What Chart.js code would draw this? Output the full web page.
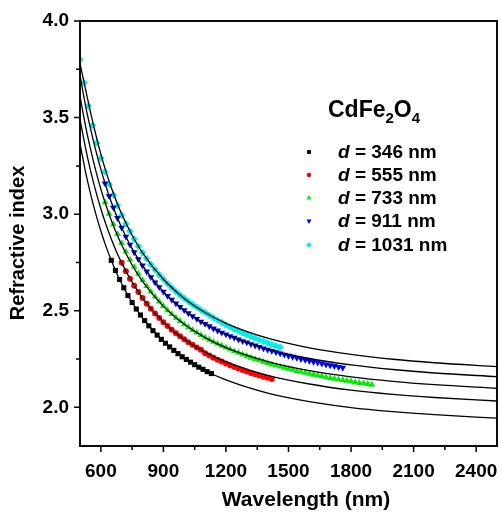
<!DOCTYPE html>
<html>
<head>
<meta charset="utf-8">
<script src="https://cdn.jsdelivr.net/npm/chart.js@4.4.1/dist/chart.umd.min.js"></script>
<style>
  html, body { margin: 0; padding: 0; background: #fff; }
  #wrap { width: 501px; height: 513px; }
</style>
</head>
<body>
<div id="wrap"><canvas id="chart" width="501" height="513"></canvas></div>
<script>
// ── Data ───────────────────────────────────────────────────
const xTicks = [600, 900, 1200, 1500, 1800, 2100, 2400];
const xMinor = [750, 1050, 1350, 1650, 1950, 2250];
const yTicks = [2.0, 2.5, 3.0, 3.5, 4.0];
const yMinor = [2.25, 2.75, 3.25, 3.75];

const seriesNames = ['346', '555', '733', '911', '1031'];
const seriesColors = ['#000000', '#ff0000', '#00ee00', '#0000ff', '#00eeee'];

// measured points, d = 346 nm
const wl346 = [650, 670, 690, 710, 730, 750, 770, 790, 810, 830, 850, 870, 890, 910, 930, 950, 970, 990, 1010, 1030, 1050, 1070, 1090, 1110, 1130];
const n346 = [2.761, 2.709, 2.662, 2.619, 2.579, 2.543, 2.509, 2.478, 2.449, 2.422, 2.397, 2.374, 2.352, 2.332, 2.313, 2.295, 2.278, 2.262, 2.248, 2.234, 2.221, 2.208, 2.197, 2.185, 2.175];

// d = 555 nm
const wl555 = [700, 720, 740, 760, 780, 800, 820, 840, 860, 880, 900, 920, 940, 960, 980, 1000, 1020, 1040, 1060, 1080, 1100, 1120, 1140, 1160, 1180, 1200, 1220, 1240, 1260, 1280, 1300, 1320, 1340, 1360, 1380, 1400, 1420];
const n555 = [2.748, 2.705, 2.666, 2.630, 2.597, 2.566, 2.537, 2.510, 2.486, 2.463, 2.441, 2.421, 2.402, 2.384, 2.368, 2.352, 2.337, 2.324, 2.310, 2.298, 2.280, 2.268, 2.257, 2.246, 2.237, 2.227, 2.218, 2.209, 2.201, 2.193, 2.186, 2.178, 2.172, 2.165, 2.159, 2.153, 2.147];

// d = 733 nm
const wl733 = [620, 640, 660, 680, 700, 720, 740, 760, 780, 800, 820, 840, 860, 880, 900, 920, 940, 960, 980, 1000, 1020, 1040, 1060, 1080, 1100, 1120, 1140, 1160, 1180, 1200, 1220, 1240, 1260, 1280, 1300, 1320, 1340, 1360, 1380, 1400, 1420, 1440, 1460, 1480, 1500, 1520, 1540, 1560, 1580, 1600, 1620, 1640, 1660, 1680, 1700, 1720, 1740, 1760, 1780, 1800, 1820, 1840, 1860, 1880, 1900];
const n733 = [3.061, 3.002, 2.948, 2.897, 2.850, 2.806, 2.765, 2.727, 2.692, 2.659, 2.628, 2.599, 2.573, 2.548, 2.525, 2.503, 2.483, 2.464, 2.447, 2.430, 2.415, 2.400, 2.387, 2.374, 2.361, 2.350, 2.339, 2.329, 2.319, 2.309, 2.300, 2.290, 2.282, 2.273, 2.265, 2.257, 2.249, 2.243, 2.236, 2.229, 2.222, 2.216, 2.211, 2.205, 2.199, 2.194, 2.188, 2.184, 2.179, 2.174, 2.169, 2.165, 2.161, 2.156, 2.152, 2.148, 2.144, 2.141, 2.138, 2.134, 2.130, 2.126, 2.124, 2.121, 2.117];

// d = 911 nm
const wl911 = [620, 640, 660, 680, 700, 720, 740, 760, 780, 800, 820, 840, 860, 880, 900, 920, 940, 960, 980, 1000, 1020, 1040, 1060, 1080, 1100, 1120, 1140, 1160, 1180, 1200, 1220, 1240, 1260, 1280, 1300, 1320, 1340, 1360, 1380, 1400, 1420, 1440, 1460, 1480, 1500, 1520, 1540, 1560, 1580, 1600, 1620, 1640, 1660, 1680, 1700, 1720, 1740, 1760];
const n911 = [3.159, 3.094, 3.034, 2.980, 2.930, 2.884, 2.842, 2.803, 2.767, 2.734, 2.703, 2.674, 2.647, 2.622, 2.599, 2.577, 2.557, 2.538, 2.520, 2.503, 2.487, 2.472, 2.458, 2.444, 2.432, 2.420, 2.408, 2.398, 2.387, 2.378, 2.369, 2.360, 2.351, 2.343, 2.336, 2.327, 2.320, 2.313, 2.305, 2.299, 2.292, 2.286, 2.279, 2.273, 2.267, 2.262, 2.256, 2.250, 2.246, 2.241, 2.236, 2.232, 2.227, 2.222, 2.218, 2.214, 2.209, 2.205];

// d = 1031 nm
const wl1031 = [500, 520, 540, 560, 580, 600, 620, 640, 660, 680, 700, 720, 740, 760, 780, 800, 820, 840, 860, 880, 900, 920, 940, 960, 980, 1000, 1020, 1040, 1060, 1080, 1100, 1120, 1140, 1160, 1180, 1200, 1220, 1240, 1260, 1280, 1300, 1320, 1340, 1360, 1380, 1400, 1420, 1440, 1460];
const n1031 = [3.80, 3.68, 3.56, 3.46, 3.37, 3.29, 3.22, 3.155, 3.10, 3.045, 2.995, 2.95, 2.911, 2.871, 2.834, 2.800, 2.769, 2.739, 2.712, 2.686, 2.663, 2.640, 2.619, 2.600, 2.581, 2.564, 2.548, 2.533, 2.518, 2.504, 2.491, 2.477, 2.464, 2.451, 2.439, 2.427, 2.416, 2.405, 2.396, 2.385, 2.376, 2.367, 2.358, 2.349, 2.342, 2.333, 2.325, 2.318, 2.311];

// fitted curves (black lines), sampled along the picture
const fitWl = [500, 525, 550, 575, 600, 625, 650, 675, 700, 750, 800, 900, 1000, 1100, 1200, 1400, 1600, 1800, 2000, 2200, 2500];
const fit346 = [3.365, 3.227, 3.108, 3.004, 2.913, 2.832, 2.761, 2.697, 2.640, 2.543, 2.463, 2.342, 2.255, 2.191, 2.142, 2.074, 2.030, 1.999, 1.978, 1.962, 1.944];
const fit555 = [3.492, 3.351, 3.228, 3.122, 3.028, 2.945, 2.871, 2.806, 2.748, 2.648, 2.566, 2.441, 2.352, 2.286, 2.236, 2.166, 2.121, 2.089, 2.067, 2.051, 2.033];
const fit733 = [3.612, 3.465, 3.339, 3.228, 3.130, 3.045, 2.969, 2.901, 2.840, 2.737, 2.652, 2.523, 2.430, 2.361, 2.309, 2.237, 2.190, 2.158, 2.135, 2.118, 2.099];
const fit911 = [3.720, 3.570, 3.445, 3.333, 3.232, 3.143, 3.063, 2.993, 2.930, 2.822, 2.734, 2.599, 2.503, 2.432, 2.378, 2.302, 2.253, 2.220, 2.196, 2.178, 2.159];
const fit1031 = [3.780, 3.655, 3.530, 3.415, 3.311, 3.219, 3.138, 3.066, 3.001, 2.891, 2.800, 2.663, 2.564, 2.491, 2.435, 2.358, 2.308, 2.274, 2.249, 2.231, 2.211];

// ── Helpers ─────────────────────────────────────────────
const FONT = 'Arial, "Liberation Sans", Helvetica, sans-serif';
const toPts = (xs, ys) => xs.map((x, i) => ({ x: x, y: ys[i] }));

const markers = [
    { pointStyle: 'rect', radius: 3.6, rotation: 0 },
    { pointStyle: 'circle', radius: 3.0, rotation: 0 },
    { pointStyle: 'triangle', radius: 3.9, rotation: 0 },
    { pointStyle: 'triangle', radius: 3.9, rotation: 180 },
    { pointStyle: 'rectRot', radius: 3.8, rotation: 0 }
];

const measured = [[wl346, n346], [wl555, n555], [wl733, n733], [wl911, n911], [wl1031, n1031]];
const fits = [fit346, fit555, fit733, fit911, fit1031];

const datasets = [];
fits.forEach((f, i) => {
    datasets.push({
        label: 'fit ' + seriesNames[i],
        data: toPts(fitWl, f),
        showLine: true,
        borderColor: '#000',
        borderWidth: 1.3,
        pointRadius: 0,
        cubicInterpolationMode: 'monotone',
        order: 0
    });
});
measured.forEach(([xs, ys], i) => {
    datasets.push({
        label: 'd = ' + seriesNames[i] + ' nm',
        data: toPts(xs, ys),
        showLine: false,
        backgroundColor: seriesColors[i],
        pointBackgroundColor: seriesColors[i],
        pointBorderWidth: 0,
        pointStyle: markers[i].pointStyle,
        pointRadius: markers[i].radius,
        pointRotation: markers[i].rotation,
        order: 1
    });
});

// ── Frame, ticks, titles and legend drawn on top ──────────
const decorations = {
    id: 'decorations',
    afterDraw(chart) {
        const ctx = chart.ctx;
        const a = chart.chartArea;
        const xs = chart.scales.x, ys = chart.scales.y;
        ctx.save();
        ctx.strokeStyle = '#000';

        // frame
        ctx.lineWidth = 1.9;
        ctx.strokeRect(a.left, a.top, a.right - a.left, a.bottom - a.top);

        // tick marks (outward)
        ctx.lineWidth = 1.5;
        ctx.beginPath();
        xTicks.forEach(v => { const p = xs.getPixelForValue(v); ctx.moveTo(p, a.bottom); ctx.lineTo(p, a.bottom + 6); });
        xMinor.forEach(v => { const p = xs.getPixelForValue(v); ctx.moveTo(p, a.bottom); ctx.lineTo(p, a.bottom + 4); });
        yTicks.forEach(v => { const p = ys.getPixelForValue(v); ctx.moveTo(a.left, p); ctx.lineTo(a.left - 6, p); });
        yMinor.forEach(v => { const p = ys.getPixelForValue(v); ctx.moveTo(a.left, p); ctx.lineTo(a.left - 4, p); });
        ctx.stroke();

        // axis titles
        ctx.fillStyle = '#000';
        ctx.textAlign = 'center';
        ctx.textBaseline = 'middle';
        ctx.font = 'bold 21px ' + FONT;
        ctx.fillText('Wavelength (nm)', 306, 500);
        ctx.font = 'bold 20px ' + FONT;
        ctx.save();
        ctx.translate(18, 243);
        ctx.rotate(-Math.PI / 2);
        ctx.fillText('Refractive index', 0, 0);
        ctx.restore();

        // legend title CdFe2O4
        ctx.textAlign = 'left';
        ctx.textBaseline = 'alphabetic';
        let x = 328;
        const parts = [['CdFe', 23, 0], ['2', 15, 6], ['O', 23, 0], ['4', 15, 6]];
        parts.forEach(([t, size, dy]) => {
            ctx.font = 'bold ' + size + 'px ' + FONT;
            ctx.fillText(t, x, 117 + dy);
            x += ctx.measureText(t).width;
        });

        // legend entries
        const rowY = [152, 175, 198, 221, 245];
        seriesNames.forEach((name, i) => {
            const cy = rowY[i];
            ctx.fillStyle = seriesColors[i];
            Chart.helpers.drawPoint(ctx, {
                pointStyle: markers[i].pointStyle,
                radius: markers[i].radius * 0.75,
                rotation: markers[i].rotation,
                borderWidth: 0
            }, 309, cy);
            ctx.fillStyle = '#000';
            ctx.textBaseline = 'middle';
            ctx.font = 'italic bold 19px ' + FONT;
            ctx.fillText('d', 338, cy + 1);
            const w = ctx.measureText('d').width;
            ctx.font = 'bold 19px ' + FONT;
            ctx.fillText(' = ' + name + ' nm', 338 + w, cy + 1);
        });
        ctx.restore();
    }
};

new Chart(document.getElementById('chart'), {
    type: 'scatter',
    data: { datasets: datasets },
    options: {
        responsive: false,
        devicePixelRatio: 1,
        animation: false,
        layout: { padding: { top: 21, right: 2, bottom: 0, left: 0 } },
        plugins: { legend: { display: false }, tooltip: { enabled: false } },
        scales: {
            x: {
                type: 'linear',
                min: 500,
                max: 2500,
                afterFit(scale) { scale.height = 67; scale.paddingLeft = 0; scale.paddingRight = 0; },
                afterBuildTicks(scale) { scale.ticks = xTicks.map(v => ({ value: v })); },
                grid: { display: false, drawTicks: false },
                border: { display: false },
                ticks: {
                    padding: 14,
                    color: '#000',
                    font: { family: FONT, size: 19, weight: 'bold' },
                    callback: v => String(v)
                }
            },
            y: {
                type: 'linear',
                min: 1.8,
                max: 4.0,
                afterFit(scale) { scale.width = 80; scale.paddingTop = 0; scale.paddingBottom = 0; },
                afterBuildTicks(scale) { scale.ticks = yTicks.map(v => ({ value: v })); },
                grid: { display: false, drawTicks: false },
                border: { display: false },
                ticks: {
                    padding: 11,
                    color: '#000',
                    font: { family: FONT, size: 19, weight: 'bold' },
                    callback: v => v.toFixed(1)
                }
            }
        }
    },
    plugins: [decorations]
});
</script>
</body>
</html>
